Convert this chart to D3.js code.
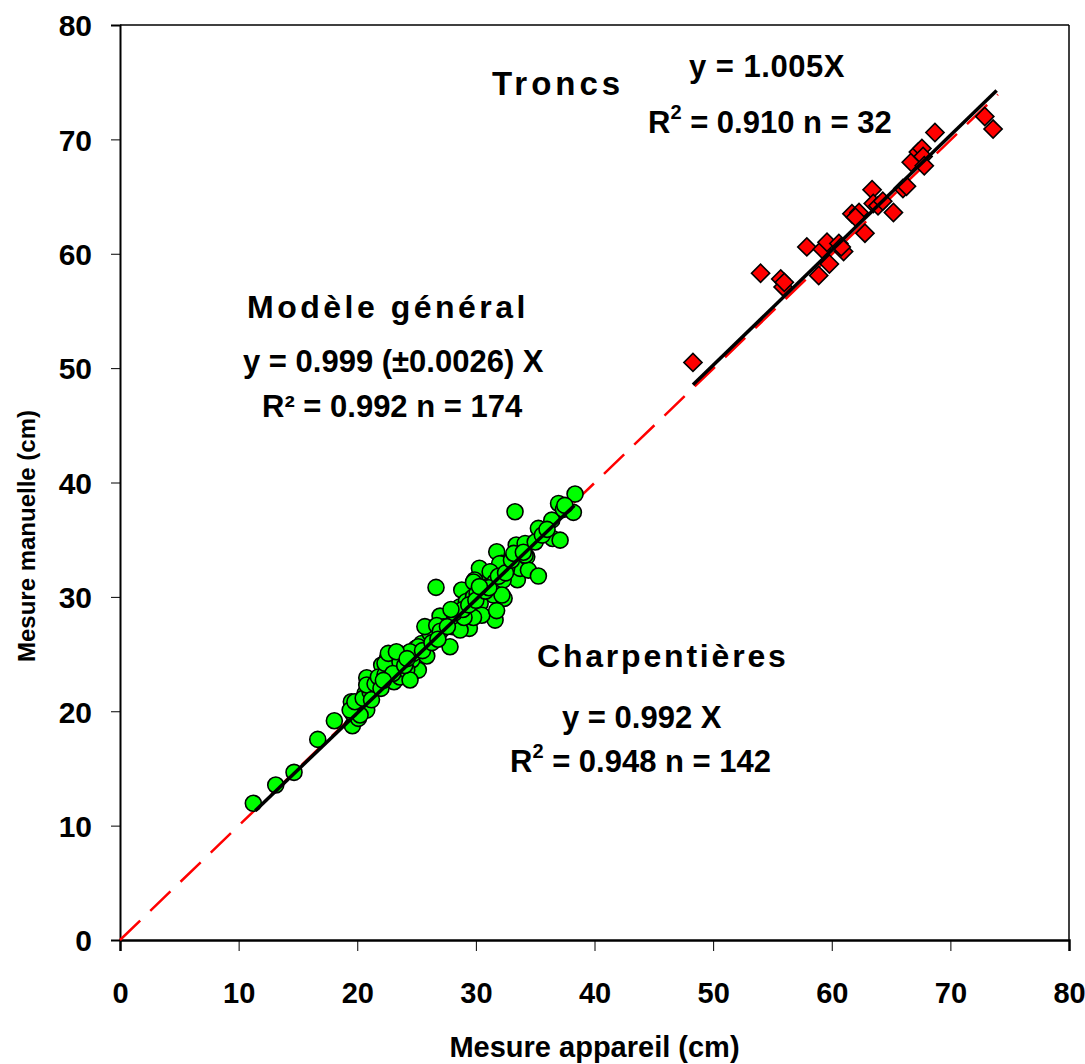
<!DOCTYPE html>
<html>
<head>
<meta charset="utf-8">
<script src="https://cdn.jsdelivr.net/npm/d3@7"></script>
<style>
  body { margin: 0; background: #fff; }
  text { font-family: "Liberation Sans", Arial, sans-serif; font-weight: bold; fill: #000; }
</style>
</head>
<body>
<svg id="chart"></svg>
<script>
// Charpentieres (green circles)
const charpX = [11.24,13.13,14.67,16.67,18.07,19.59,19.62,20.1,19.5,20.38,20.8,20.66,20.8,21.36,21.78,22.06,22.54,23.05,22.7,23.47,23.1,23.6,24.45,25.15,24.6,24.95,25.44,25.86,26.05,26.56,26.64,26.98,27.26,27.82,28.05,28.4,28.81,28.67,29.23,29.45,29.5,29.65,30.07,30.36,30.5,30.64,30.92,31.34,31.48,31.62,31.76,32.04,32.18,32.38,32.88,33.3,33.4,33.5,33.73,34.15,34.29,34.43,35.27,35.27,36.4,36.47,37.1,36.97,37.38,38.22,38.36,37.5,
  20.24,19.4,19.8,20.5,21.08,20.8,21.5,21.78,22.34,22.34,22.62,23.6,23.6,24.17,24.45,24.73,25.15,26.15,25.7,24.45,
  23.3,26.7,28.1,28.67,29.2,29.8,30.5,29.8,31.2,30.3,29.9,31.75,29.0,
  34.15,32.6,32.0,31.2,31.6,32.3,32.2,30.6,29.8,30.1,
  21.2,22.0,23.0,24.0,25.5,26.3,27.0,27.6,28.2,28.9,29.4,30.0,30.8,31.1,31.9,32.5,33.0,33.2,34.0,35.0,35.6,36.0,22.2,24.2,26.8,27.9,30.3];
const charpY = [11.95,13.55,14.66,17.54,19.17,18.73,19.81,19.38,20.83,20.74,20.1,21.56,22.93,22.0,22.44,24.04,24.62,24.33,24.04,25.06,22.58,23.45,23.16,23.6,24.48,25.5,25.93,24.83,27.25,26.57,30.83,28.32,27.39,25.64,27.39,27.83,30.6,29.14,28.7,27.25,29.28,29.87,31.47,29.43,32.2,30.88,31.76,32.2,30.16,27.97,33.94,31.32,32.93,29.87,32.34,37.44,34.53,31.5,32.49,34.67,33.5,32.34,31.82,35.99,36.71,35.11,34.96,38.17,37.65,37.39,38.99,38.0,
  19.67,20.1,20.83,21.13,21.7,22.3,22.4,23.0,23.2,24.19,25.06,24.3,23.0,23.6,22.73,25.06,25.64,26.8,27.4,25.2,
  25.2,27.5,27.8,27.1,29.6,30.0,28.4,28.2,31.0,32.5,31.47,28.8,28.2,
  33.65,32.5,32.9,32.2,31.3,31.47,30.16,30.6,31.3,30.3,
  21.0,22.0,23.3,24.0,25.3,26.0,27.0,27.4,28.6,28.9,29.3,29.7,30.5,30.8,31.8,32.1,33.2,33.8,33.9,34.8,35.4,35.9,22.7,24.6,26.3,28.9,30.9];

// Troncs (red diamonds)
const troncX = [48.3,54.0,55.7,55.9,57.9,58.9,59.2,59.6,59.8,60.6,61.0,60.8,61.7,62.3,62.0,62.8,63.4,63.5,63.9,65.2,66.0,66.3,66.7,67.3,67.6,67.7,67.8,68.7,72.9,73.6,56.0,64.3];
const troncY = [50.5,58.3,57.8,57.1,60.6,58.1,60.4,61.0,59.1,60.9,60.2,60.6,63.5,63.6,63.2,61.8,65.6,64.4,64.2,63.6,65.7,65.9,68.0,68.9,69.2,68.5,67.7,70.6,72.0,70.9,57.5,64.6];

// fitted slopes and ranges
const slopeGeneral = 0.999, rangeGeneral = [0, 74];
const slopeCharp = 0.992, rangeCharp = [11.4, 38.3];
const slopeTronc = 1.005, rangeTronc = [48.3, 73.9];

const xTicks = [0, 10, 20, 30, 40, 50, 60, 70, 80];
const yTicks = [0, 10, 20, 30, 40, 50, 60, 70, 80];

const width = 1085, height = 1064;
const margin = { left: 120, right: 16, top: 25, bottom: 124 };

const svg = d3.select('#chart').attr('width', width).attr('height', height);

const x = d3.scaleLinear().domain([0, 80]).range([margin.left, width - margin.right]);
const y = d3.scaleLinear().domain([0, 80]).range([height - margin.bottom, margin.top]);

// frame top/right
svg.append('line')
  .attr('x1', x(0)).attr('x2', x(80)).attr('y1', y(80)).attr('y2', y(80))
  .attr('stroke', '#000').attr('stroke-width', 1.5);
svg.append('line')
  .attr('x1', x(80)).attr('x2', x(80)).attr('y1', y(80)).attr('y2', y(0))
  .attr('stroke', '#000').attr('stroke-width', 1.5);

// axes
const xAxis = svg.append('g')
  .attr('transform', `translate(0, ${y(0)})`)
  .call(d3.axisBottom(x).tickValues(xTicks).tickSize(11).tickPadding(31).tickFormat(d3.format('d')));
xAxis.select('.domain').attr('stroke-width', 2.5);
xAxis.selectAll('.tick line').attr('stroke-width', 1);
xAxis.selectAll('text').style('font-size', '29px').attr('fill', '#000');

const yAxis = svg.append('g')
  .attr('transform', `translate(${x(0)}, 0)`)
  .call(d3.axisLeft(y).tickValues(yTicks).tickSize(9).tickPadding(19).tickFormat(d3.format('d')));
yAxis.select('.domain').attr('stroke-width', 2);
yAxis.selectAll('.tick line').attr('stroke-width', 1);
yAxis.selectAll('text').style('font-size', '30px').attr('fill', '#000').attr('dy', '0.36em');

// axis titles
svg.append('text')
  .attr('x', (x(0) + x(80)) / 2).attr('y', 1057)
  .attr('text-anchor', 'middle').style('font-size', '29px')
  .text('Mesure appareil (cm)');

svg.append('text')
  .attr('transform', `translate(35, 536) rotate(-90)`)
  .attr('text-anchor', 'middle').style('font-size', '24px')
  .text('Mesure manuelle (cm)');

// general model dashed line
const line = d3.line().x(d => x(d[0])).y(d => y(d[1]));
svg.append('path')
  .datum(rangeGeneral.map(v => [v, v * slopeGeneral]))
  .attr('d', line)
  .attr('fill', 'none').attr('stroke', '#ff0000').attr('stroke-width', 2.5)
  .attr('stroke-dasharray', '28,14');

// points
svg.append('g').selectAll('circle')
  .data(charpX.map((v, i) => [v, charpY[i]]))
  .enter().append('circle')
  .attr('cx', d => x(d[0])).attr('cy', d => y(d[1])).attr('r', 8)
  .attr('fill', '#00ff00').attr('stroke', '#000').attr('stroke-width', 1.6);

const diamond = d3.symbol().type(d3.symbolSquare).size(165);
svg.append('g').selectAll('path')
  .data(troncX.map((v, i) => [v, troncY[i]]))
  .enter().append('path')
  .attr('d', diamond)
  .attr('transform', d => `translate(${x(d[0])}, ${y(d[1])}) rotate(45)`)
  .attr('fill', '#ff0000').attr('stroke', '#000').attr('stroke-width', 1.6);

// fitted lines
[[slopeCharp, rangeCharp], [slopeTronc, rangeTronc]].forEach(([s, r]) => {
  svg.append('path')
    .datum(r.map(v => [v, v * s]))
    .attr('d', line)
    .attr('fill', 'none').attr('stroke', '#000').attr('stroke-width', 3.5);
});

// annotations
function label(px, py, size, txt, spacing) {
  return svg.append('text').attr('x', px).attr('y', py)
    .style('font-size', size + 'px')
    .style('letter-spacing', (spacing || 0) + 'px')
    .text(txt);
}
function r2label(px, py, rest) {
  const t = svg.append('text').attr('x', px).attr('y', py).style('font-size', '31px');
  t.append('tspan').text('R');
  t.append('tspan').attr('dy', -14).style('font-size', '20px').text('2');
  t.append('tspan').attr('dy', 14).text(' = ' + rest);
}

label(492, 95, 33, 'Troncs', 4);
label(689, 77, 31, 'y = 1.005X', 0.5);
r2label(648, 133, '0.910 n = 32');

label(247, 318, 32, 'Modèle général', 3.5);
label(243, 372, 31, 'y = 0.999 (±0.0026) X');
label(262, 417, 31, 'R² = 0.992 n = 174');

label(537, 667, 32, 'Charpentières', 2.8);
label(562, 728, 31, 'y = 0.992 X');
r2label(510, 772, '0.948 n = 142');
</script>
</body>
</html>
